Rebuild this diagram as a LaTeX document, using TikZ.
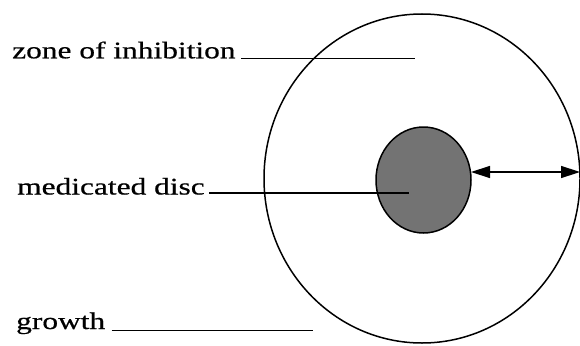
\documentclass[tikz,border=0pt]{standalone}
\usepackage{fontspec}
\setmainfont{Liberation Serif}
\newfontfamily\labfont[FakeStretch=1.32,FakeBold=0.6]{Liberation Serif}
\usetikzlibrary{shapes.geometric,arrows.meta}
\begin{document}
\begin{tikzpicture}[x=1pt,y=-1pt,
  lab/.style={anchor=base west,inner sep=0pt,font=\labfont\fontsize{23.8}{28}\selectfont},
  leader/.style={line width=1.3pt},
  ring/.style={draw,ellipse,line width=1.5pt,inner sep=0pt},
  dimarrow/.style={line width=1.4pt,{Triangle[length=19pt,width=12pt]}-{Triangle[length=19pt,width=12pt]}}]
\useasboundingbox (0,0) rectangle (580,345);
\node[ring,minimum width=316pt,minimum height=329pt] (plate) at (422,178.5) {};
\node[ring,fill=black!55,minimum width=95pt,minimum height=106pt] (disc) at (423.5,180) {};
\node[lab] (zone) at (12,58.3) {zone of inhibition};
\node[lab] (med) at (17,194.5) {medicated disc};
\node[lab] (grow) at (16,329) {growth};
\coordinate (z1) at (241,58.5);
\coordinate (z2) at (415,58.5);
\coordinate (m1) at (209,193);
\coordinate (m2) at (409,193);
\coordinate (g1) at (111.5,330.5);
\coordinate (g2) at (313,330.5);
\coordinate (a1) at (471,172);
\coordinate (a2) at (580,172);
\draw[leader] (z1) -- (z2);
\draw[leader] (m1) -- (m2);
\draw[leader] (g1) -- (g2);
\draw[dimarrow] (a1) -- (a2);
\end{tikzpicture}
\end{document}
